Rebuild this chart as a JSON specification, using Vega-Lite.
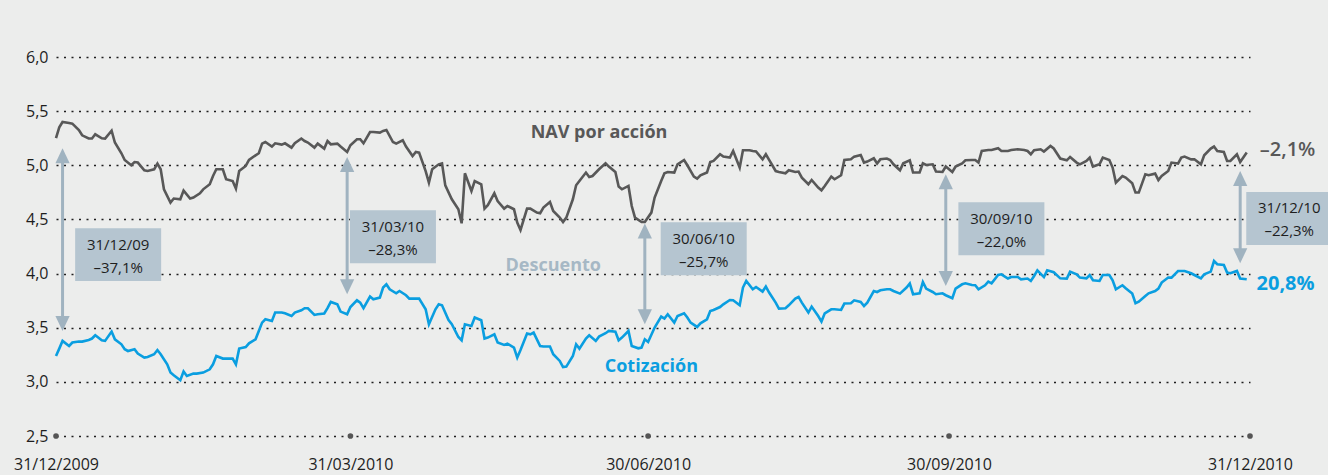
{
  "$schema": "https://vega.github.io/schema/vega-lite/v6.json",
  "width": 1194,
  "height": 379,
  "autosize": {"type": "none"},
  "padding": {"left": 56, "top": 57, "right": 78, "bottom": 39},
  "background": "#ecedec",
  "config": {"view": {"stroke": null}, "font": "Open Sans"},
  "datasets": {
    "nav": [
      {"f":"2009-12-31","v":5.25},{"f":"2010-01-01","v":5.35},{"f":"2010-01-02","v":5.40},{"f":"2010-01-04","v":5.39},{"f":"2010-01-05","v":5.385},{"f":"2010-01-07","v":5.326},{"f":"2010-01-08","v":5.277},{"f":"2010-01-10","v":5.247},{"f":"2010-01-11","v":5.247},{"f":"2010-01-12","v":5.286},{"f":"2010-01-14","v":5.249},{"f":"2010-01-15","v":5.247},{"f":"2010-01-17","v":5.32},{"f":"2010-01-18","v":5.21},{"f":"2010-01-20","v":5.111},{"f":"2010-01-21","v":5.049},{"f":"2010-01-23","v":5.0},{"f":"2010-01-24","v":5.03},{"f":"2010-01-25","v":5.025},{"f":"2010-01-27","v":4.954},{"f":"2010-01-28","v":4.947},{"f":"2010-01-30","v":4.963},{"f":"2010-01-31","v":5.016},
      {"f":"2010-02-01","v":4.963},{"f":"2010-02-02","v":4.778},{"f":"2010-02-04","v":4.656},{"f":"2010-02-05","v":4.693},{"f":"2010-02-07","v":4.686},{"f":"2010-02-08","v":4.766},{"f":"2010-02-10","v":4.693},{"f":"2010-02-11","v":4.702},{"f":"2010-02-13","v":4.741},{"f":"2010-02-14","v":4.778},{"f":"2010-02-16","v":4.825},{"f":"2010-02-17","v":4.901},{"f":"2010-02-18","v":4.963},{"f":"2010-02-20","v":4.963},{"f":"2010-02-21","v":4.871},{"f":"2010-02-23","v":4.855},{"f":"2010-02-24","v":4.785},{"f":"2010-02-25","v":4.947},{"f":"2010-02-27","v":4.994},{"f":"2010-02-28","v":5.049},
      {"f":"2010-03-02","v":5.092},{"f":"2010-03-03","v":5.111},{"f":"2010-03-04","v":5.2},{"f":"2010-03-05","v":5.215},{"f":"2010-03-07","v":5.173},{"f":"2010-03-08","v":5.203},{"f":"2010-03-10","v":5.191},{"f":"2010-03-11","v":5.203},{"f":"2010-03-13","v":5.163},{"f":"2010-03-14","v":5.203},{"f":"2010-03-16","v":5.247},{"f":"2010-03-17","v":5.224},{"f":"2010-03-18","v":5.21},{"f":"2010-03-20","v":5.163},{"f":"2010-03-21","v":5.2},{"f":"2010-03-23","v":5.154},{"f":"2010-03-24","v":5.224},{"f":"2010-03-25","v":5.194},{"f":"2010-03-27","v":5.2},{"f":"2010-03-28","v":5.173},{"f":"2010-03-30","v":5.123},{"f":"2010-03-31","v":5.185},
      {"f":"2010-04-02","v":5.24},{"f":"2010-04-03","v":5.24},{"f":"2010-04-04","v":5.203},{"f":"2010-04-06","v":5.307},{"f":"2010-04-07","v":5.307},{"f":"2010-04-09","v":5.302},{"f":"2010-04-10","v":5.317},{"f":"2010-04-11","v":5.326},{"f":"2010-04-13","v":5.215},{"f":"2010-04-14","v":5.2},{"f":"2010-04-16","v":5.231},{"f":"2010-04-17","v":5.173},{"f":"2010-04-19","v":5.086},{"f":"2010-04-20","v":5.123},{"f":"2010-04-21","v":5.117},{"f":"2010-04-23","v":4.947},{"f":"2010-04-24","v":4.84},{"f":"2010-04-25","v":4.963},{"f":"2010-04-27","v":5.009},{"f":"2010-04-28","v":5.018},{"f":"2010-04-29","v":4.815},
      {"f":"2010-05-01","v":4.686},{"f":"2010-05-03","v":4.594},{"f":"2010-05-04","v":4.464},{"f":"2010-05-05","v":4.926},{"f":"2010-05-07","v":4.763},{"f":"2010-05-08","v":4.855},{"f":"2010-05-10","v":4.825},{"f":"2010-05-11","v":4.6},{"f":"2010-05-12","v":4.631},{"f":"2010-05-14","v":4.741},{"f":"2010-05-15","v":4.67},{"f":"2010-05-17","v":4.6},{"f":"2010-05-18","v":4.624},{"f":"2010-05-20","v":4.594},{"f":"2010-05-21","v":4.471},{"f":"2010-05-22","v":4.403},{"f":"2010-05-24","v":4.6},{"f":"2010-05-25","v":4.6},{"f":"2010-05-27","v":4.563},{"f":"2010-05-28","v":4.557},{"f":"2010-05-29","v":4.609},{"f":"2010-05-31","v":4.661},
      {"f":"2010-06-01","v":4.578},{"f":"2010-06-03","v":4.517},{"f":"2010-06-04","v":4.476},{"f":"2010-06-05","v":4.517},{"f":"2010-06-07","v":4.686},{"f":"2010-06-08","v":4.815},{"f":"2010-06-09","v":4.855},{"f":"2010-06-11","v":4.933},{"f":"2010-06-12","v":4.892},{"f":"2010-06-13","v":4.901},{"f":"2010-06-15","v":4.963},{"f":"2010-06-17","v":5.018},{"f":"2010-06-18","v":4.988},{"f":"2010-06-20","v":4.938},{"f":"2010-06-21","v":4.803},{"f":"2010-06-22","v":4.778},{"f":"2010-06-24","v":4.809},{"f":"2010-06-25","v":4.624},{"f":"2010-06-26","v":4.517},{"f":"2010-06-28","v":4.476},{"f":"2010-06-29","v":4.476},
      {"f":"2010-07-01","v":4.563},{"f":"2010-07-02","v":4.702},{"f":"2010-07-04","v":4.855},{"f":"2010-07-05","v":4.926},{"f":"2010-07-06","v":4.938},{"f":"2010-07-08","v":4.933},{"f":"2010-07-09","v":5.009},{"f":"2010-07-11","v":5.049},{"f":"2010-07-12","v":5.0},{"f":"2010-07-14","v":4.896},{"f":"2010-07-15","v":4.877},{"f":"2010-07-16","v":4.908},{"f":"2010-07-18","v":4.933},{"f":"2010-07-19","v":5.03},{"f":"2010-07-20","v":5.04},{"f":"2010-07-22","v":5.102},{"f":"2010-07-23","v":5.08},{"f":"2010-07-25","v":5.071},{"f":"2010-07-26","v":5.132},{"f":"2010-07-28","v":4.979},{"f":"2010-07-29","v":5.139},{"f":"2010-07-31","v":5.139},
      {"f":"2010-08-01","v":5.132},{"f":"2010-08-02","v":5.127},{"f":"2010-08-04","v":5.055},{"f":"2010-08-05","v":5.102},{"f":"2010-08-06","v":5.049},{"f":"2010-08-08","v":4.947},{"f":"2010-08-09","v":4.938},{"f":"2010-08-11","v":4.926},{"f":"2010-08-12","v":4.954},{"f":"2010-08-14","v":4.938},{"f":"2010-08-15","v":4.942},{"f":"2010-08-16","v":4.886},{"f":"2010-08-18","v":4.825},{"f":"2010-08-19","v":4.864},{"f":"2010-08-21","v":4.794},{"f":"2010-08-22","v":4.769},{"f":"2010-08-23","v":4.809},{"f":"2010-08-25","v":4.896},{"f":"2010-08-26","v":4.871},{"f":"2010-08-28","v":4.908},{"f":"2010-08-29","v":5.049},{"f":"2010-08-31","v":5.055},
      {"f":"2010-09-01","v":5.08},{"f":"2010-09-03","v":5.095},{"f":"2010-09-04","v":5.025},{"f":"2010-09-05","v":5.034},{"f":"2010-09-07","v":5.065},{"f":"2010-09-08","v":5.016},{"f":"2010-09-09","v":5.055},{"f":"2010-09-11","v":5.062},{"f":"2010-09-12","v":5.049},{"f":"2010-09-13","v":5.009},{"f":"2010-09-15","v":4.954},{"f":"2010-09-16","v":5.018},{"f":"2010-09-18","v":5.046},{"f":"2010-09-19","v":4.933},{"f":"2010-09-21","v":4.933},{"f":"2010-09-22","v":5.018},{"f":"2010-09-23","v":5.003},{"f":"2010-09-25","v":5.009},{"f":"2010-09-26","v":4.942},{"f":"2010-09-28","v":4.938},{"f":"2010-09-29","v":4.988},
      {"f":"2010-10-01","v":4.938},{"f":"2010-10-02","v":4.988},{"f":"2010-10-04","v":5.018},{"f":"2010-10-05","v":5.046},{"f":"2010-10-07","v":5.049},{"f":"2010-10-08","v":5.049},{"f":"2010-10-09","v":5.025},{"f":"2010-10-10","v":5.132},{"f":"2010-10-12","v":5.141},{"f":"2010-10-13","v":5.141},{"f":"2010-10-15","v":5.157},{"f":"2010-10-16","v":5.132},{"f":"2010-10-18","v":5.132},{"f":"2010-10-19","v":5.141},{"f":"2010-10-21","v":5.148},{"f":"2010-10-23","v":5.141},{"f":"2010-10-24","v":5.132},{"f":"2010-10-25","v":5.102},{"f":"2010-10-26","v":5.139},{"f":"2010-10-28","v":5.148},{"f":"2010-10-29","v":5.127},{"f":"2010-10-31","v":5.178},
      {"f":"2010-11-01","v":5.155},{"f":"2010-11-03","v":5.062},{"f":"2010-11-05","v":5.046},{"f":"2010-11-06","v":5.077},{"f":"2010-11-08","v":5.025},{"f":"2010-11-09","v":5.009},{"f":"2010-11-11","v":5.04},{"f":"2010-11-12","v":5.071},{"f":"2010-11-13","v":4.988},{"f":"2010-11-15","v":5.009},{"f":"2010-11-16","v":5.071},{"f":"2010-11-18","v":5.049},{"f":"2010-11-19","v":4.979},{"f":"2010-11-20","v":4.84},{"f":"2010-11-22","v":4.901},{"f":"2010-11-23","v":4.886},{"f":"2010-11-25","v":4.834},{"f":"2010-11-26","v":4.748},{"f":"2010-11-27","v":4.748},{"f":"2010-11-29","v":4.917},{"f":"2010-11-30","v":4.908},
      {"f":"2010-12-02","v":4.923},{"f":"2010-12-03","v":4.864},{"f":"2010-12-04","v":4.901},{"f":"2010-12-06","v":4.947},{"f":"2010-12-07","v":5.025},{"f":"2010-12-09","v":5.016},{"f":"2010-12-10","v":5.071},{"f":"2010-12-11","v":5.08},{"f":"2010-12-13","v":5.055},{"f":"2010-12-14","v":5.055},{"f":"2010-12-16","v":5.009},{"f":"2010-12-17","v":5.092},{"f":"2010-12-19","v":5.154},{"f":"2010-12-20","v":5.173},{"f":"2010-12-21","v":5.132},{"f":"2010-12-23","v":5.123},{"f":"2010-12-24","v":5.04},{"f":"2010-12-25","v":5.04},{"f":"2010-12-27","v":5.102},{"f":"2010-12-28","v":5.03},{"f":"2010-12-30","v":5.117}
    ],
    "cot": [
      {"f":"2009-12-31","v":3.239},{"f":"2010-01-01","v":3.307},{"f":"2010-01-02","v":3.378},{"f":"2010-01-04","v":3.331},{"f":"2010-01-05","v":3.363},{"f":"2010-01-07","v":3.372},{"f":"2010-01-08","v":3.372},{"f":"2010-01-10","v":3.387},{"f":"2010-01-11","v":3.4},{"f":"2010-01-12","v":3.43},{"f":"2010-01-14","v":3.384},{"f":"2010-01-15","v":3.378},{"f":"2010-01-17","v":3.464},{"f":"2010-01-18","v":3.393},{"f":"2010-01-20","v":3.347},{"f":"2010-01-21","v":3.301},{"f":"2010-01-22","v":3.285},{"f":"2010-01-24","v":3.301},{"f":"2010-01-25","v":3.261},{"f":"2010-01-27","v":3.224},{"f":"2010-01-28","v":3.23},{"f":"2010-01-30","v":3.255},{"f":"2010-01-31","v":3.294},
      {"f":"2010-02-01","v":3.255},{"f":"2010-02-03","v":3.162},{"f":"2010-02-04","v":3.086},{"f":"2010-02-05","v":3.061},{"f":"2010-02-07","v":3.015},{"f":"2010-02-08","v":3.095},{"f":"2010-02-09","v":3.054},{"f":"2010-02-11","v":3.076},{"f":"2010-02-12","v":3.076},{"f":"2010-02-14","v":3.086},{"f":"2010-02-16","v":3.116},{"f":"2010-02-17","v":3.162},{"f":"2010-02-18","v":3.239},{"f":"2010-02-20","v":3.215},{"f":"2010-02-21","v":3.215},{"f":"2010-02-23","v":3.215},{"f":"2010-02-24","v":3.162},{"f":"2010-02-25","v":3.307},{"f":"2010-02-27","v":3.322},{"f":"2010-02-28","v":3.356},
      {"f":"2010-03-02","v":3.393},{"f":"2010-03-03","v":3.47},{"f":"2010-03-04","v":3.547},{"f":"2010-03-05","v":3.578},{"f":"2010-03-07","v":3.562},{"f":"2010-03-08","v":3.64},{"f":"2010-03-10","v":3.64},{"f":"2010-03-11","v":3.633},{"f":"2010-03-13","v":3.608},{"f":"2010-03-14","v":3.64},{"f":"2010-03-16","v":3.661},{"f":"2010-03-17","v":3.68},{"f":"2010-03-18","v":3.68},{"f":"2010-03-20","v":3.618},{"f":"2010-03-21","v":3.624},{"f":"2010-03-23","v":3.631},{"f":"2010-03-24","v":3.68},{"f":"2010-03-25","v":3.738},{"f":"2010-03-27","v":3.716},{"f":"2010-03-28","v":3.649},{"f":"2010-03-30","v":3.624},{"f":"2010-03-31","v":3.691},
      {"f":"2010-04-02","v":3.753},{"f":"2010-04-03","v":3.732},{"f":"2010-04-04","v":3.68},{"f":"2010-04-06","v":3.788},{"f":"2010-04-07","v":3.763},{"f":"2010-04-09","v":3.778},{"f":"2010-04-10","v":3.871},{"f":"2010-04-11","v":3.901},{"f":"2010-04-12","v":3.855},{"f":"2010-04-14","v":3.818},{"f":"2010-04-15","v":3.839},{"f":"2010-04-17","v":3.8},{"f":"2010-04-18","v":3.769},{"f":"2010-04-20","v":3.769},{"f":"2010-04-21","v":3.769},{"f":"2010-04-23","v":3.67},{"f":"2010-04-24","v":3.532},{"f":"2010-04-26","v":3.67},{"f":"2010-04-27","v":3.716},{"f":"2010-04-28","v":3.707},{"f":"2010-04-30","v":3.571},
      {"f":"2010-05-01","v":3.532},{"f":"2010-05-03","v":3.414},{"f":"2010-05-04","v":3.384},{"f":"2010-05-05","v":3.532},{"f":"2010-05-07","v":3.516},{"f":"2010-05-08","v":3.594},{"f":"2010-05-10","v":3.569},{"f":"2010-05-11","v":3.4},{"f":"2010-05-12","v":3.409},{"f":"2010-05-14","v":3.439},{"f":"2010-05-15","v":3.363},{"f":"2010-05-17","v":3.341},{"f":"2010-05-18","v":3.353},{"f":"2010-05-20","v":3.317},{"f":"2010-05-21","v":3.224},{"f":"2010-05-22","v":3.294},{"f":"2010-05-24","v":3.446},{"f":"2010-05-25","v":3.439},{"f":"2010-05-26","v":3.455},{"f":"2010-05-28","v":3.331},{"f":"2010-05-29","v":3.326},{"f":"2010-05-31","v":3.326},
      {"f":"2010-06-01","v":3.255},{"f":"2010-06-03","v":3.193},{"f":"2010-06-04","v":3.137},{"f":"2010-06-05","v":3.141},{"f":"2010-06-07","v":3.239},{"f":"2010-06-08","v":3.347},{"f":"2010-06-09","v":3.307},{"f":"2010-06-11","v":3.4},{"f":"2010-06-12","v":3.43},{"f":"2010-06-14","v":3.378},{"f":"2010-06-15","v":3.418},{"f":"2010-06-17","v":3.449},{"f":"2010-06-18","v":3.47},{"f":"2010-06-20","v":3.464},{"f":"2010-06-21","v":3.384},{"f":"2010-06-22","v":3.409},{"f":"2010-06-24","v":3.47},{"f":"2010-06-25","v":3.331},{"f":"2010-06-27","v":3.31},{"f":"2010-06-28","v":3.317},{"f":"2010-06-29","v":3.393},{"f":"2010-06-30","v":3.368},
      {"f":"2010-07-02","v":3.502},{"f":"2010-07-04","v":3.603},{"f":"2010-07-05","v":3.584},{"f":"2010-07-06","v":3.624},{"f":"2010-07-08","v":3.547},{"f":"2010-07-09","v":3.608},{"f":"2010-07-11","v":3.633},{"f":"2010-07-12","v":3.594},{"f":"2010-07-13","v":3.547},{"f":"2010-07-15","v":3.507},{"f":"2010-07-16","v":3.541},{"f":"2010-07-18","v":3.578},{"f":"2010-07-19","v":3.654},{"f":"2010-07-20","v":3.664},{"f":"2010-07-22","v":3.691},{"f":"2010-07-23","v":3.716},{"f":"2010-07-25","v":3.756},{"f":"2010-07-26","v":3.753},{"f":"2010-07-28","v":3.707},{"f":"2010-07-29","v":3.871},{"f":"2010-07-30","v":3.932},
      {"f":"2010-08-01","v":3.855},{"f":"2010-08-02","v":3.876},{"f":"2010-08-04","v":3.834},{"f":"2010-08-05","v":3.88},{"f":"2010-08-06","v":3.825},{"f":"2010-08-08","v":3.732},{"f":"2010-08-09","v":3.677},{"f":"2010-08-11","v":3.68},{"f":"2010-08-12","v":3.707},{"f":"2010-08-14","v":3.769},{"f":"2010-08-15","v":3.784},{"f":"2010-08-16","v":3.732},{"f":"2010-08-18","v":3.64},{"f":"2010-08-19","v":3.695},{"f":"2010-08-21","v":3.608},{"f":"2010-08-22","v":3.557},{"f":"2010-08-23","v":3.633},{"f":"2010-08-25","v":3.67},{"f":"2010-08-26","v":3.67},{"f":"2010-08-28","v":3.664},{"f":"2010-08-29","v":3.723},{"f":"2010-08-31","v":3.726},
      {"f":"2010-09-01","v":3.753},{"f":"2010-09-03","v":3.738},{"f":"2010-09-04","v":3.701},{"f":"2010-09-05","v":3.732},{"f":"2010-09-07","v":3.839},{"f":"2010-09-08","v":3.83},{"f":"2010-09-09","v":3.846},{"f":"2010-09-11","v":3.855},{"f":"2010-09-12","v":3.855},{"f":"2010-09-13","v":3.839},{"f":"2010-09-15","v":3.815},{"f":"2010-09-17","v":3.871},{"f":"2010-09-18","v":3.908},{"f":"2010-09-19","v":3.809},{"f":"2010-09-21","v":3.818},{"f":"2010-09-22","v":3.922},{"f":"2010-09-23","v":3.861},{"f":"2010-09-25","v":3.83},{"f":"2010-09-26","v":3.809},{"f":"2010-09-28","v":3.818},{"f":"2010-09-29","v":3.8},
      {"f":"2010-10-01","v":3.772},{"f":"2010-10-02","v":3.861},{"f":"2010-10-04","v":3.901},{"f":"2010-10-05","v":3.91},{"f":"2010-10-07","v":3.895},{"f":"2010-10-08","v":3.892},{"f":"2010-10-09","v":3.855},{"f":"2010-10-11","v":3.892},{"f":"2010-10-12","v":3.926},{"f":"2010-10-13","v":3.91},{"f":"2010-10-15","v":3.987},{"f":"2010-10-16","v":3.993},{"f":"2010-10-18","v":3.954},{"f":"2010-10-19","v":3.968},{"f":"2010-10-21","v":3.968},{"f":"2010-10-22","v":3.947},{"f":"2010-10-24","v":3.954},{"f":"2010-10-25","v":3.932},{"f":"2010-10-26","v":3.978},{"f":"2010-10-27","v":4.03},{"f":"2010-10-29","v":3.968},{"f":"2010-10-30","v":4.03},
      {"f":"2010-11-01","v":4.012},{"f":"2010-11-03","v":3.956},{"f":"2010-11-05","v":3.954},{"f":"2010-11-06","v":4.018},{"f":"2010-11-08","v":3.993},{"f":"2010-11-09","v":3.963},{"f":"2010-11-11","v":3.956},{"f":"2010-11-12","v":3.987},{"f":"2010-11-13","v":3.938},{"f":"2010-11-15","v":3.932},{"f":"2010-11-16","v":3.987},{"f":"2010-11-18","v":3.987},{"f":"2010-11-19","v":3.938},{"f":"2010-11-20","v":3.855},{"f":"2010-11-22","v":3.892},{"f":"2010-11-23","v":3.864},{"f":"2010-11-25","v":3.815},{"f":"2010-11-26","v":3.726},{"f":"2010-11-27","v":3.741},{"f":"2010-11-29","v":3.793},{"f":"2010-11-30","v":3.818},
      {"f":"2010-12-02","v":3.839},{"f":"2010-12-03","v":3.861},{"f":"2010-12-04","v":3.917},{"f":"2010-12-06","v":3.963},{"f":"2010-12-07","v":3.963},{"f":"2010-12-09","v":4.024},{"f":"2010-12-10","v":4.024},{"f":"2010-12-11","v":4.024},{"f":"2010-12-13","v":4.003},{"f":"2010-12-14","v":3.987},{"f":"2010-12-16","v":3.956},{"f":"2010-12-17","v":3.993},{"f":"2010-12-19","v":4.018},{"f":"2010-12-20","v":4.116},{"f":"2010-12-21","v":4.086},{"f":"2010-12-23","v":4.079},{"f":"2010-12-24","v":4.009},{"f":"2010-12-25","v":4.003},{"f":"2010-12-27","v":4.024},{"f":"2010-12-28","v":3.954},{"f":"2010-12-30","v":3.947}
    ],
    "flechas": [
      {"f":"2010-01-02","v":5.157,"v2":3.47},
      {"f":"2010-03-30","v":5.077,"v2":3.809},
      {"f":"2010-06-29","v":4.462,"v2":3.532},
      {"f":"2010-09-29","v":4.917,"v2":3.885},
      {"f":"2010-12-28","v":4.947,"v2":4.095}
    ],
    "puntas": [
      {"f":"2010-01-02","v":5.157,"extremo":"arriba"},{"f":"2010-01-02","v":3.47,"extremo":"abajo"},
      {"f":"2010-03-30","v":5.077,"extremo":"arriba"},{"f":"2010-03-30","v":3.809,"extremo":"abajo"},
      {"f":"2010-06-29","v":4.462,"extremo":"arriba"},{"f":"2010-06-29","v":3.532,"extremo":"abajo"},
      {"f":"2010-09-29","v":4.917,"extremo":"arriba"},{"f":"2010-09-29","v":3.885,"extremo":"abajo"},
      {"f":"2010-12-28","v":4.947,"extremo":"arriba"},{"f":"2010-12-28","v":4.095,"extremo":"abajo"}
    ],
    "cajas": [
      {"f":"2010-01-19","v":4.175,"fecha":"31/12/09","pct":"–37,1%"},
      {"f":"2010-04-13","v":4.34,"fecha":"31/03/10","pct":"–28,3%"},
      {"f":"2010-07-17","v":4.229,"fecha":"30/06/10","pct":"–25,7%"},
      {"f":"2010-10-16","v":4.414,"fecha":"30/09/10","pct":"–22,0%"},
      {"f":"2011-01-12","v":4.509,"fecha":"31/12/10","pct":"–22,3%"}
    ],
    "marcas": [
      {"f":"2009-12-31","v":2.5},{"f":"2010-03-31","v":2.5},{"f":"2010-06-30","v":2.5},{"f":"2010-09-30","v":2.5},{"f":"2010-12-31","v":2.5}
    ]
  },
  "encoding": {
    "x": {
      "field": "f", "type": "temporal", "title": null,
      "scale": {"type": "utc", "domain": ["2009-12-31", "2010-12-31"]},
      "axis": {
        "values": [1262217600000, 1269993600000, 1277856000000, 1285804800000, 1293753600000],
        "format": "%d/%m/%Y",
        "domain": false, "ticks": false, "grid": false,
        "labelFontSize": 16, "labelColor": "#1e1e1e", "labelFont": "Open Sans",
        "labelPadding": 20, "labelAlign": "center", "labelBound": false, "labelFlush": false, "labelOverlap": false
      }
    },
    "y": {
      "field": "v", "type": "quantitative", "title": null,
      "scale": {"domain": [2.5, 6.0], "nice": false, "zero": false},
      "axis": {
        "values": [2.5, 3.0, 3.5, 4.0, 4.5, 5.0, 5.5, 6.0],
        "labelExpr": "replace(format(datum.value, '.1f'), '.', ',')",
        "domain": false, "ticks": false, "grid": true,
        "gridDash": [2, 5.5], "gridColor": "#1e1e1e", "gridWidth": 1.5,
        "labelFontSize": 16, "labelColor": "#1e1e1e", "labelFont": "Open Sans", "labelPadding": 8
      }
    }
  },
  "layer": [
    {
      "data": {"name": "marcas"},
      "mark": {"type": "point", "filled": true, "color": "#555555", "opacity": 1, "size": 32}
    },
    {
      "data": {"name": "flechas"},
      "mark": {"type": "rule", "color": "#a0b3c0", "strokeWidth": 3, "yOffset": 8, "y2Offset": -8},
      "encoding": {"y2": {"field": "v2"}}
    },
    {
      "data": {"name": "puntas"},
      "transform": [{"filter": "datum.extremo === 'arriba'"}],
      "mark": {"type": "point", "shape": "M0,-1L-0.95,1L0.95,1Z", "size": 225, "filled": true, "opacity": 1, "color": "#a0b3c0", "yOffset": 7.5}
    },
    {
      "data": {"name": "puntas"},
      "transform": [{"filter": "datum.extremo === 'abajo'"}],
      "mark": {"type": "point", "shape": "M0,1L-0.95,-1L0.95,-1Z", "size": 225, "filled": true, "opacity": 1, "color": "#a0b3c0", "yOffset": -7.5}
    },
    {
      "data": {"name": "cajas"},
      "mark": {"type": "point", "shape": "M-1,-0.616L1,-0.616L1,0.616L-1,0.616Z", "size": 7396, "filled": true, "opacity": 1, "color": "#b5c5d0", "strokeWidth": 0}
    },
    {
      "data": {"name": "cajas"},
      "mark": {"type": "text", "font": "Open Sans", "fontSize": 15, "color": "#1e1e1e", "baseline": "middle", "align": "center", "dy": -10},
      "encoding": {"text": {"field": "fecha"}}
    },
    {
      "data": {"name": "cajas"},
      "mark": {"type": "text", "font": "Open Sans", "fontSize": 15, "color": "#1e1e1e", "baseline": "middle", "align": "center", "dy": 13},
      "encoding": {"text": {"field": "pct"}}
    },
    {
      "data": {"name": "nav"},
      "mark": {"type": "line", "color": "#585858", "strokeWidth": 2.6}
    },
    {
      "data": {"name": "cot"},
      "mark": {"type": "line", "color": "#0a9ee0", "strokeWidth": 2.6}
    },
    {
      "data": {"values": [{"f": "2010-06-15", "v": 5.256, "t": "NAV por acción"}]},
      "mark": {"type": "text", "font": "Open Sans", "fontSize": 18, "fontWeight": "bold", "color": "#585858", "align": "center", "baseline": "alphabetic"},
      "encoding": {"text": {"field": "t"}}
    },
    {
      "data": {"values": [{"f": "2010-06-01", "v": 4.024, "t": "Descuento"}]},
      "mark": {"type": "text", "font": "Open Sans", "fontSize": 18, "fontWeight": "bold", "color": "#a6b8c5", "align": "center", "baseline": "alphabetic"},
      "encoding": {"text": {"field": "t"}}
    },
    {
      "data": {"values": [{"f": "2010-07-01", "v": 3.091, "t": "Cotización"}]},
      "mark": {"type": "text", "font": "Open Sans", "fontSize": 18, "fontWeight": "bold", "color": "#0a9ee0", "align": "center", "baseline": "alphabetic"},
      "encoding": {"text": {"field": "t"}}
    },
    {
      "data": {"values": [{"f": "2011-01-03", "v": 5.086, "t": "–2,1%"}]},
      "mark": {"type": "text", "font": "Open Sans", "fontSize": 20, "fontWeight": 600, "color": "#585858", "align": "left", "baseline": "alphabetic"},
      "encoding": {"text": {"field": "t"}}
    },
    {
      "data": {"values": [{"f": "2011-01-02", "v": 3.846, "t": "20,8%"}]},
      "mark": {"type": "text", "font": "Open Sans", "fontSize": 20, "fontWeight": "bold", "color": "#0a9ee0", "align": "left", "baseline": "alphabetic"},
      "encoding": {"text": {"field": "t"}}
    }
  ]
}
